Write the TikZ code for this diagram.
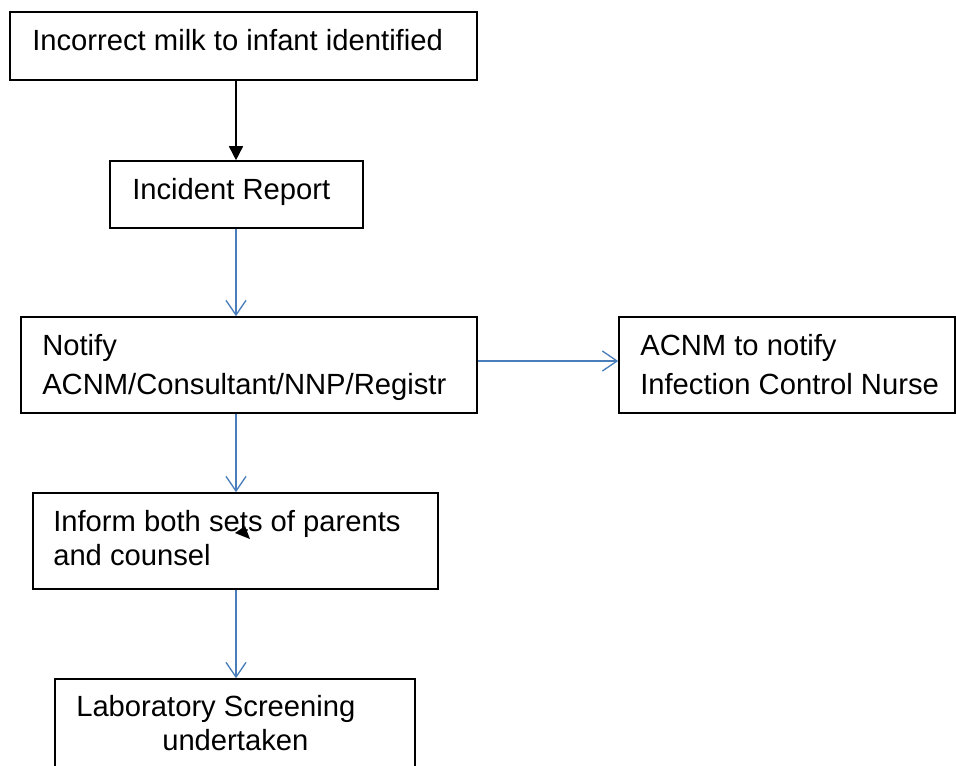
\documentclass[tikz,border=0pt]{standalone}
\usepackage{fontspec}
\setmainfont{Liberation Sans}
\usetikzlibrary{arrows.meta,positioning,fit}
\definecolor{flowblue}{RGB}{74,126,187}

\begin{document}
\begin{tikzpicture}[x=0.75pt,y=-0.75pt]
		\tikzstyle{block} = [rectangle, draw, line width=1.2pt, inner sep=0pt]
		\tikzstyle{entry} = [inner sep=0pt, anchor=base west, align=left, font=\fontsize{21.9}{29.25}\selectfont]
		\tikzstyle{arrow} = [draw, line width=1pt, flowblue, -{Straight Barb[length=11pt,width=15pt]}]
		\useasboundingbox (0,0) rectangle (956,765);
		\clip (0,0) rectangle (956,765);

		\node [block, fit={(10,12) (477,80)}] (milk) {};
		\node [block, fit={(110,161) (363,228)}] (report) {};
		\node [block, fit={(21,317) (477,413)}] (notify) {};
		\node [block, fit={(619,317) (955,413)}] (infection) {};
		\node [block, fit={(33,493) (438,589)}] (inform) {};
		\node [block, fit={(55,679) (415,800)}] (lab) {};

		% multi-line entries sit on the baseline of their last line
		\node [entry] (milktext) at (32,50) {Incorrect milk to infant identified};
		\node [entry] (reporttext) at (132,199) {Incident Report};
		\node [entry] (notifytext) at (42,394) {Notify\\ACNM/Consultant/NNP/Registr};
		\node [entry] (infectiontext) at (640,394) {ACNM to notify\\Infection Control Nurse};
		\node [entry, font=\fontsize{21.9}{25.5}\selectfont] (informtext) at (53,565) {Inform both sets of parents\\and counsel};
		\node [entry, font=\fontsize{21.9}{25.5}\selectfont] (labtext) at (76,750) {Laboratory Screening\\\hspace*{64.5pt}undertaken};

		\coordinate (spine) at (236,0);
		\path[draw, line width=1.2pt, -{Triangle[length=10.5pt,width=10.5pt]}] (spine |- milk.south) -- (spine |- report.north);
		\path[arrow] (spine |- report.south) -- (spine |- notify.north);
		\path[arrow] ([yshift=3pt]notify.east) -- ([yshift=3pt]infection.west);
		\path[arrow] (spine |- notify.south) -- (spine |- inform.north);
		\path[arrow] (spine |- inform.south) -- (spine |- lab.north);

		% stray arrowhead inside the parents box
		\fill (235,533) -- (245,526) -- (250,539) -- cycle;
	\end{tikzpicture}
\end{document}
